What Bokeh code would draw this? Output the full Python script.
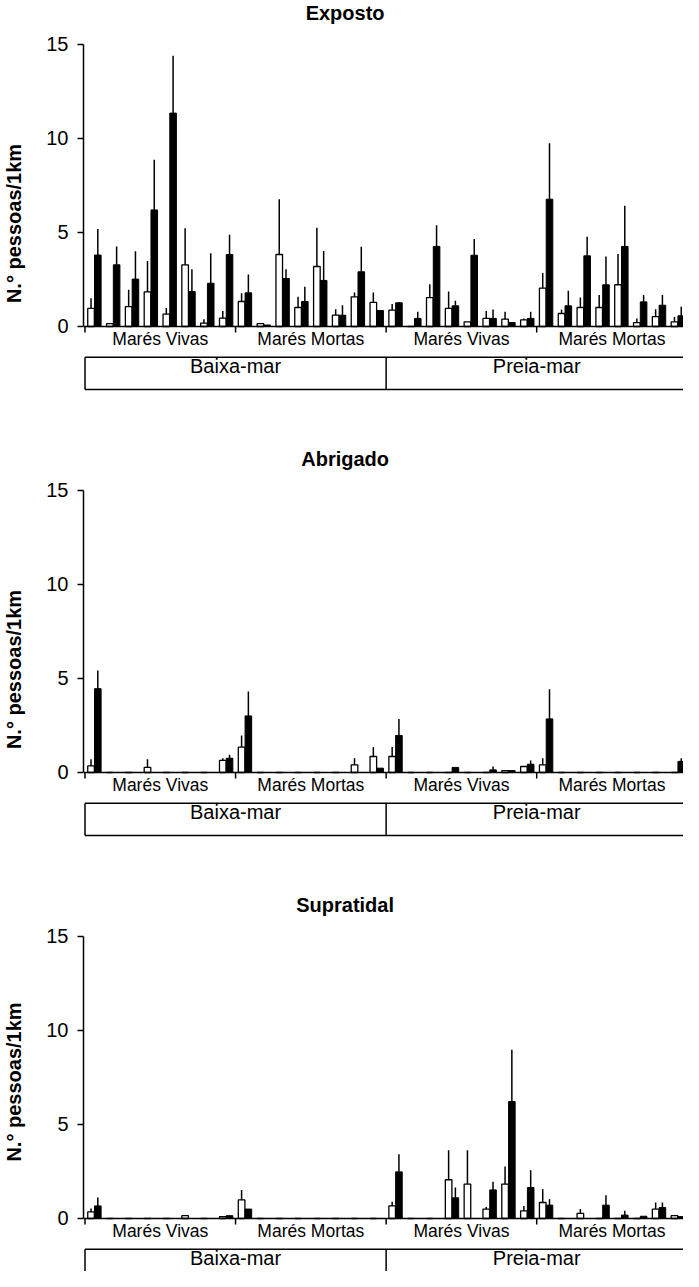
import numpy as np
from bokeh.plotting import figure
from bokeh.layouts import column
from bokeh.models import Range1d, FixedTicker
from bokeh.core.properties import value
from bokeh.embed import file_html
from bokeh.resources import INLINE

# ---------------- data ----------------
panel_titles = ["Exposto", "Abrigado", "Supratidal"]
section_labels = ["Marés Vivas", "Marés Mortas", "Marés Vivas", "Marés Mortas"]
tide_labels = ["Baixa-mar", "Preia-mar"]
y_ticks = [0, 5, 10, 15]
y_label = "N.° pessoas/1km"
n_groups = 32
groups_per_section = 8

# Exposto
exp_white = [0.96, 0.15, 1.06, 1.84, 0.66, 3.28, 0.18, 0.44,
             1.33, 0.15, 3.83, 1.01, 3.19, 0.60, 1.58, 1.28,
             0.87, 0.00, 1.54, 0.96, 0.25, 0.43, 0.39, 0.35,
             2.04, 0.69, 1.01, 1.01, 2.22, 0.21, 0.53, 0.25]
exp_white_up = [1.50, 0.15, 1.95, 3.48, 0.99, 5.23, 0.39, 0.82,
                1.77, 0.15, 6.77, 1.58, 5.25, 0.92, 1.81, 1.81,
                1.19, 0.00, 2.25, 1.86, 0.25, 0.83, 0.78, 0.43,
                2.85, 0.90, 1.54, 1.67, 3.85, 0.43, 0.92, 0.51]
exp_black = [3.80, 3.28, 2.52, 6.20, 11.35, 1.86, 2.30, 3.83,
             1.79, 0.08, 2.55, 1.33, 2.45, 0.60, 2.91, 0.85,
             1.26, 0.43, 4.26, 1.10, 3.79, 0.43, 0.21, 0.43,
             6.77, 1.10, 3.76, 2.22, 4.26, 1.31, 1.13, 0.57]
exp_black_up = [5.18, 4.26, 4.00, 8.87, 14.40, 3.05, 3.90, 4.88,
                2.77, 0.08, 3.05, 2.11, 4.02, 1.13, 4.24, 0.85,
                1.30, 0.78, 5.39, 1.37, 4.65, 0.90, 0.21, 0.78,
                9.75, 1.90, 4.77, 3.72, 6.42, 1.67, 1.68, 1.05]

# Abrigado
abr_white = [0.35, 0, 0, 0.27, 0, 0, 0, 0.64,
             1.35, 0, 0, 0, 0, 0, 0.41, 0.85,
             0.85, 0, 0, 0, 0, 0, 0.10, 0.32,
             0.41, 0, 0, 0, 0, 0, 0, 0]
abr_white_up = [0.71, 0, 0, 0.71, 0, 0, 0, 0.76,
                1.97, 0, 0, 0, 0, 0, 0.76, 1.35,
                1.35, 0, 0, 0, 0, 0, 0.10, 0.35,
                0.76, 0, 0, 0, 0, 0, 0, 0]
abr_black = [4.46, 0, 0, 0, 0, 0, 0, 0.76,
             3.01, 0, 0, 0, 0, 0, 0, 0.23,
             1.97, 0, 0, 0.27, 0, 0.14, 0.10, 0.44,
             2.85, 0, 0, 0, 0, 0, 0, 0.59]
abr_black_up = [5.42, 0, 0, 0, 0, 0, 0, 0.94,
                4.31, 0, 0, 0, 0, 0, 0, 0.23,
                2.85, 0, 0, 0.27, 0, 0.32, 0.10, 0.64,
                4.43, 0, 0, 0, 0, 0, 0, 0.76]

# Supratidal
sup_white = [0.35, 0, 0, 0, 0, 0.15, 0, 0.10,
             0.99, 0, 0, 0, 0, 0, 0, 0,
             0.67, 0, 0, 2.06, 1.83, 0.50, 1.83, 0.41,
             0.85, 0, 0.27, 0, 0, 0, 0.50, 0.15]
sup_white_up = [0.53, 0, 0, 0, 0, 0.15, 0, 0.10,
                1.52, 0, 0, 0, 0, 0, 0, 0,
                0.89, 0, 0, 3.63, 3.63, 0.62, 2.77, 0.67,
                1.56, 0, 0.50, 0, 0, 0, 0.85, 0.15]
sup_black = [0.67, 0, 0, 0, 0, 0, 0, 0.15,
             0.50, 0, 0, 0, 0, 0, 0, 0,
             2.48, 0, 0, 1.10, 0, 1.52, 6.22, 1.65,
             0.71, 0, 0, 0.71, 0.18, 0.12, 0.58, 0.10]
sup_black_up = [1.12, 0, 0, 0, 0, 0, 0, 0.15,
                0.50, 0, 0, 0, 0, 0, 0, 0,
                3.42, 0, 0, 1.65, 0, 1.95, 8.97, 2.57,
                1.03, 0, 0, 1.24, 0.41, 0.12, 0.85, 0.10]

panels = [
    (exp_white, exp_white_up, exp_black, exp_black_up),
    (abr_white, abr_white_up, abr_black, abr_black_up),
    (sup_white, sup_white_up, sup_black, sup_black_up),
]

# ---------------- layout constants ----------------
FONT = "Liberation Sans"
W = 683
HEIGHTS = [446, 446, 379]
PX_PER_UNIT = 18.8
Y_TOP = 17.34
X_START, X_END = 0.42, 32.3
BAR_W = 0.35
OFF = 0.18

groups = np.arange(1, n_groups + 1)


def make_panel(title, wh, wh_up, bl, bl_up, height):
    y_bottom = Y_TOP - height / PX_PER_UNIT
    p = figure(width=W, height=height, output_backend="svg", toolbar_location=None,
               x_range=Range1d(X_START, X_END), y_range=Range1d(y_bottom, Y_TOP),
               x_axis_type=None, min_border_left=82, min_border_right=0,
               min_border_top=0, min_border_bottom=0)
    p.outline_line_color = None
    p.ygrid.visible = False
    p.background_fill_color = "white"
    p.border_fill_color = "white"

    yax = p.yaxis[0]
    yax.bounds = (0, 15)
    yax.ticker = FixedTicker(ticks=y_ticks)
    yax.minor_tick_line_color = None
    yax.major_tick_in = 0
    yax.major_tick_out = 6
    yax.major_tick_line_width = 1.5
    yax.axis_line_width = 1.5
    yax.axis_line_color = "black"
    yax.major_tick_line_color = "black"
    yax.major_label_text_font = FONT
    yax.major_label_text_font_size = "20px"
    yax.major_label_text_color = "black"
    yax.major_label_standoff = 9
    yax.axis_label = y_label
    yax.axis_label_text_font = FONT
    yax.axis_label_text_font_size = "20px"
    yax.axis_label_text_font_style = "bold"
    yax.axis_label_text_color = "black"
    yax.axis_label_standoff = 18

    # bars
    p.vbar(x=groups - OFF, top=wh, bottom=0, width=BAR_W, fill_color="white",
           line_color="black", line_width=1.3)
    p.vbar(x=groups + OFF, top=bl, bottom=0, width=BAR_W, fill_color="black",
           line_color="black", line_width=1.0)
    # error bars (upper only)
    p.segment(x0=groups - OFF, y0=wh, x1=groups - OFF, y1=wh_up,
              line_color="black", line_width=1.5)
    p.segment(x0=groups + OFF, y0=bl, x1=groups + OFF, y1=bl_up,
              line_color="black", line_width=1.5)

    # x baseline and section ticks
    p.segment(x0=[X_START], y0=[0], x1=[X_END], y1=[0], line_color="black", line_width=1.5)
    bounds = [0.5 + groups_per_section * i for i in range(len(section_labels))]
    p.segment(x0=bounds, y0=[0] * len(bounds), x1=bounds, y1=[-0.32] * len(bounds),
              line_color="black", line_width=1.5)

    # section labels
    sec_x = [0.5 + groups_per_section * (i + 0.5) for i in range(len(section_labels))]
    p.text(x=sec_x, y=[-0.66] * len(sec_x), text=section_labels,
           text_font=value(FONT), text_font_size=value("17.5px"),
           text_align="center", text_baseline="middle", text_color="black")

    # tide box
    span = 2 * groups_per_section
    box_top, box_bot = -1.63, -3.35
    p.segment(x0=[0.5, 0.5], y0=[box_top, box_bot], x1=[X_END + 1, X_END + 1],
              y1=[box_top, box_bot], line_color="black", line_width=1.5)
    p.segment(x0=[0.5, 0.5 + span], y0=[box_top, box_top], x1=[0.5, 0.5 + span],
              y1=[box_bot, box_bot], line_color="black", line_width=1.5)
    tide_x = [0.5 + span * (j + 0.5) for j in range(len(tide_labels))]
    p.text(x=tide_x, y=[-2.1] * len(tide_x), text=tide_labels,
           text_font=value(FONT), text_font_size=value("20px"),
           text_align="center", text_baseline="middle", text_color="black")

    # panel title
    p.text(x=[14.32], y=[16.65], text=[title], text_font=value(FONT),
           text_font_size=value("20px"), text_font_style="bold",
           text_align="center", text_baseline="middle", text_color="black")
    return p


figs = []
for t, data, h in zip(panel_titles, panels, HEIGHTS):
    figs.append(make_panel(t, *data, h))

layout = column(*figs, spacing=0)
open("out.html", "w").write(file_html(layout, INLINE))
